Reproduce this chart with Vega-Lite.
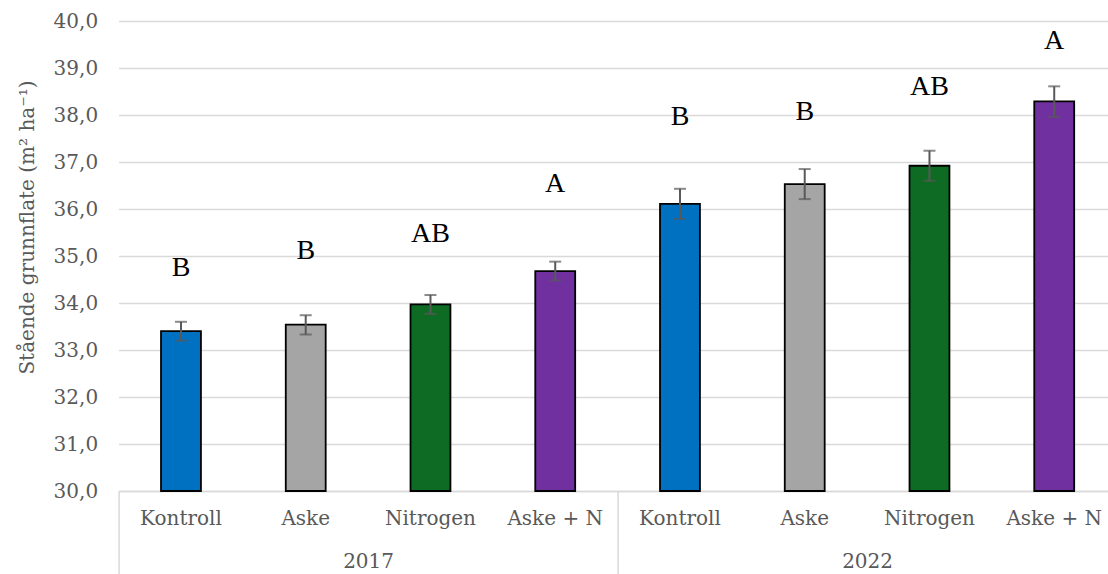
{
  "$schema": "https://vega.github.io/schema/vega-lite/v6.json",
  "width": 989.4,
  "height": 470,
  "autosize": "none",
  "padding": {"left": 118.6, "top": 21, "right": 0, "bottom": 83},
  "background": "white",
  "config": {"view": {"stroke": null}},
  "data": {
    "values": [
      {"key": "2017|Kontroll", "year": "2017", "treatment": "Kontroll", "mean": 33.40, "lo": 33.20, "hi": 33.60, "letter": "B", "letter_y": 34.74},
      {"key": "2017|Aske", "year": "2017", "treatment": "Aske", "mean": 33.54, "lo": 33.33, "hi": 33.74, "letter": "B", "letter_y": 35.11},
      {"key": "2017|Nitrogen", "year": "2017", "treatment": "Nitrogen", "mean": 33.97, "lo": 33.77, "hi": 34.17, "letter": "AB", "letter_y": 35.47},
      {"key": "2017|Aske + N", "year": "2017", "treatment": "Aske + N", "mean": 34.68, "lo": 34.48, "hi": 34.88, "letter": "A", "letter_y": 36.53},
      {"key": "2022|Kontroll", "year": "2022", "treatment": "Kontroll", "mean": 36.11, "lo": 35.79, "hi": 36.43, "letter": "B", "letter_y": 37.96},
      {"key": "2022|Aske", "year": "2022", "treatment": "Aske", "mean": 36.53, "lo": 36.21, "hi": 36.85, "letter": "B", "letter_y": 38.06},
      {"key": "2022|Nitrogen", "year": "2022", "treatment": "Nitrogen", "mean": 36.92, "lo": 36.60, "hi": 37.24, "letter": "AB", "letter_y": 38.60},
      {"key": "2022|Aske + N", "year": "2022", "treatment": "Aske + N", "mean": 38.29, "lo": 37.96, "hi": 38.61, "letter": "A", "letter_y": 39.57}
    ]
  },
  "layer": [
    {
      "encoding": {
        "x": {
          "field": "key",
          "type": "nominal",
          "sort": null,
          "scale": {"paddingInner": 0, "paddingOuter": 0, "range": [0, 998]},
          "axis": {
            "title": null,
            "labelExpr": "split(datum.value, '|')[1]",
            "ticks": false,
            "grid": false,
            "domainColor": "#d9d9d9",
            "domainWidth": 1.5,
            "labelAngle": 0,
            "labelFont": "DejaVu Serif",
            "labelFontSize": 20,
            "labelColor": "#595959",
            "labelPadding": 17
          }
        }
      },
      "layer": [
        {
          "mark": {"type": "bar", "stroke": "black", "strokeWidth": 1.8, "width": {"band": 0.32}},
          "encoding": {
            "y": {
              "field": "mean",
              "type": "quantitative",
              "title": "Stående grunnflate (m² ha⁻¹)",
              "scale": {"domain": [30, 40], "nice": false, "zero": false},
              "axis": {
                "values": [30, 31, 32, 33, 34, 35, 36, 37, 38, 39, 40],
                "labelExpr": "replace(format(datum.value, '.1f'), '.', ',')",
                "domain": false,
                "ticks": false,
                "gridColor": "#d9d9d9",
                "gridWidth": 1.5,
                "labelFont": "DejaVu Serif",
                "labelFontSize": 20,
                "labelColor": "#595959",
                "labelPadding": 21,
                "titleFont": "DejaVu Serif",
                "titleFontSize": 20,
                "titleFontWeight": "normal",
                "titleColor": "#595959",
                "titleY": 206,
                "titleX": -81
              }
            },
            "y2": {"datum": 30},
            "color": {
              "field": "treatment",
              "type": "nominal",
              "scale": {"domain": ["Kontroll", "Aske", "Nitrogen", "Aske + N"], "range": ["#0070C0", "#A5A5A5", "#0E6B23", "#7030A0"]},
              "legend": null
            }
          }
        },
        {
          "mark": {"type": "rule", "color": "#595959", "strokeWidth": 2},
          "encoding": {
            "y": {"field": "lo", "type": "quantitative", "title": "Stående grunnflate (m² ha⁻¹)"},
            "y2": {"field": "hi"}
          }
        },
        {
          "mark": {"type": "tick", "orient": "horizontal", "size": 12, "thickness": 2, "color": "#595959"},
          "encoding": {"y": {"field": "lo", "type": "quantitative", "title": "Stående grunnflate (m² ha⁻¹)"}}
        },
        {
          "mark": {"type": "tick", "orient": "horizontal", "size": 12, "thickness": 2, "color": "#595959"},
          "encoding": {"y": {"field": "hi", "type": "quantitative", "title": "Stående grunnflate (m² ha⁻¹)"}}
        },
        {
          "mark": {"type": "text", "font": "Liberation Serif", "fontSize": 28, "color": "black", "baseline": "middle", "align": "center"},
          "encoding": {
            "y": {"field": "letter_y", "type": "quantitative", "title": "Stående grunnflate (m² ha⁻¹)"},
            "text": {"field": "letter"}
          }
        }
      ]
    },
    {
      "mark": {"type": "text", "opacity": 0},
      "encoding": {
        "x": {
          "field": "year",
          "type": "nominal",
          "sort": null,
          "scale": {"paddingInner": 0, "paddingOuter": 0, "range": [0, 998]},
          "axis": {
            "orient": "bottom",
            "title": null,
            "tickBand": "extent",
            "ticks": true,
            "tickSize": 83,
            "tickColor": "#d9d9d9",
            "tickWidth": 1.5,
            "domain": false,
            "grid": false,
            "labelPadding": -23,
            "labelAngle": 0,
            "labelFont": "DejaVu Serif",
            "labelFontSize": 20,
            "labelColor": "#595959"
          }
        },
        "y": {"field": "mean", "type": "quantitative", "title": "Stående grunnflate (m² ha⁻¹)"},
        "text": {"value": ""}
      }
    }
  ],
  "resolve": {"scale": {"x": "independent"}, "axis": {"x": "independent"}}
}
